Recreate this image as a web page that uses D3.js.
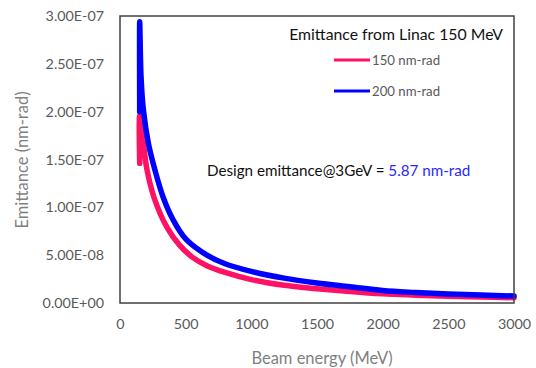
<!DOCTYPE html>
<html>
<head>
<meta charset="utf-8">
<script src="https://cdn.jsdelivr.net/npm/d3@7"></script>
<style>
  html, body { margin: 0; padding: 0; background: #fff; }
  svg { display: block; font-family: "Lato", "Open Sans", sans-serif; }
</style>
</head>
<body>
<svg id="chart" width="536" height="368"></svg>
<script>
  // values (MeV, emittance)
  const energy150 = [150, 150, 165, 183, 206, 260, 358, 450, 550, 662, 800, 1000, 1250, 1500, 1750, 2000, 2250, 2500, 2750, 3000];
  const emit150   = [1.46e-7, 1.96e-7, 1.86e-7, 1.62e-7, 1.39e-7, 1.1e-7, 7.9e-8, 6.1e-8, 4.8e-8, 3.9e-8, 3.2e-8, 2.45e-8, 1.85e-8, 1.5e-8, 1.2e-8, 9.6e-9, 8.2e-9, 7.0e-9, 6.2e-9, 5.5e-9];

  const energy200 = [150, 150, 160, 178, 216, 266, 330, 404, 500, 662, 800, 1000, 1250, 1500, 1750, 2000, 2250, 2500, 2750, 3000];
  const emit200   = [2.0e-7, 2.94e-7, 2.37e-7, 2.02e-7, 1.67e-7, 1.39e-7, 1.1e-7, 8.7e-8, 6.7e-8, 5.0e-8, 4.1e-8, 3.3e-8, 2.6e-8, 2.1e-8, 1.7e-8, 1.3e-8, 1.1e-8, 9.5e-9, 8.3e-9, 7.3e-9];

  const seriesNames  = ["150 nm-rad", "200 nm-rad"];
  const seriesColors = ["#ff1166", "#0000ff"];
  const xTicks = [0, 500, 1000, 1500, 2000, 2500, 3000];
  const yTicks = [0, 5e-8, 1e-7, 1.5e-7, 2e-7, 2.5e-7, 3e-7];

  const svg = d3.select("#chart");
  const M = { left: 120, right: 514, top: 16, bottom: 303 };

  const x = d3.scaleLinear().domain([0, 3000]).range([M.left, M.right]);
  const y = d3.scaleLinear().domain([0, 3e-7]).range([M.bottom, M.top]);

  function sci(v) {
    const [m, e] = v.toExponential(2).split("e");
    const n = +e;
    return m + "E" + (n < 0 ? "-" : "+") + String(Math.abs(n)).padStart(2, "0");
  }

  const yAxis = svg.append("g")
    .attr("transform", `translate(${M.left},0)`)
    .call(d3.axisLeft(y).tickValues(yTicks).tickFormat(sci).tickSize(0).tickPadding(16));
  yAxis.select(".domain").remove();
  yAxis.selectAll("text").attr("fill", "#595959").style("font-size", "14.3px").style("font-family", "Lato, sans-serif");

  const xAxis = svg.append("g")
    .attr("transform", `translate(0,${M.bottom})`)
    .call(d3.axisBottom(x).tickValues(xTicks).tickFormat(d3.format("d")).tickSize(0).tickPadding(16));
  xAxis.select(".domain").remove();
  xAxis.selectAll("text").attr("fill", "#595959").style("font-size", "14.3px").style("font-family", "Lato, sans-serif");

  // curves
  const line = d3.line().x(d => x(d[0])).y(d => y(d[1])).curve(d3.curveCatmullRom.alpha(0.5));
  const data = [d3.zip(energy150, emit150), d3.zip(energy200, emit200)];

  svg.append("g").selectAll("path")
    .data(data)
    .join("path")
    .attr("d", line)
    .attr("fill", "none")
    .attr("stroke", (d, i) => seriesColors[i])
    .attr("stroke-width", 5.5)
    .attr("stroke-linejoin", "round")
    .attr("stroke-linecap", "round");

  // plot frame
  svg.append("rect")
    .attr("x", M.left).attr("y", M.top)
    .attr("width", M.right - M.left).attr("height", M.bottom - M.top)
    .attr("fill", "none").attr("stroke", "#404040").attr("stroke-width", 1.5);

  // axis titles
  svg.append("text")
    .attr("x", 322).attr("y", 364)
    .attr("text-anchor", "middle")
    .attr("fill", "#7f7f7f").style("font-size", "16.5px")
    .text("Beam energy (MeV)");

  svg.append("text")
    .attr("transform", "translate(28,160) rotate(-90)")
    .attr("text-anchor", "middle")
    .attr("fill", "#7f7f7f").style("font-size", "16.5px")
    .text("Emittance (nm-rad)");

  // legend
  const legend = svg.append("g");
  legend.append("text")
    .attr("x", 503).attr("y", 40)
    .attr("text-anchor", "end")
    .attr("fill", "#111").style("font-size", "15.8px")
    .text("Emittance from Linac 150 MeV");

  const legY = [60, 91];
  seriesNames.forEach((name, i) => {
    legend.append("line")
      .attr("x1", 334).attr("x2", 370)
      .attr("y1", legY[i]).attr("y2", legY[i])
      .attr("stroke", seriesColors[i]).attr("stroke-width", 3);
    legend.append("text")
      .attr("x", 372).attr("y", legY[i] + 5)
      .attr("fill", "#595959").style("font-size", "13.2px")
      .text(name);
  });

  // annotation
  const note = svg.append("text")
    .attr("x", 207).attr("y", 176)
    .attr("fill", "#111").style("font-size", "15.2px");
  note.append("tspan").text("Design emittance@3GeV = ");
  note.append("tspan").attr("fill", "#2828ff").text("5.87 nm-rad");
</script>
</body>
</html>
